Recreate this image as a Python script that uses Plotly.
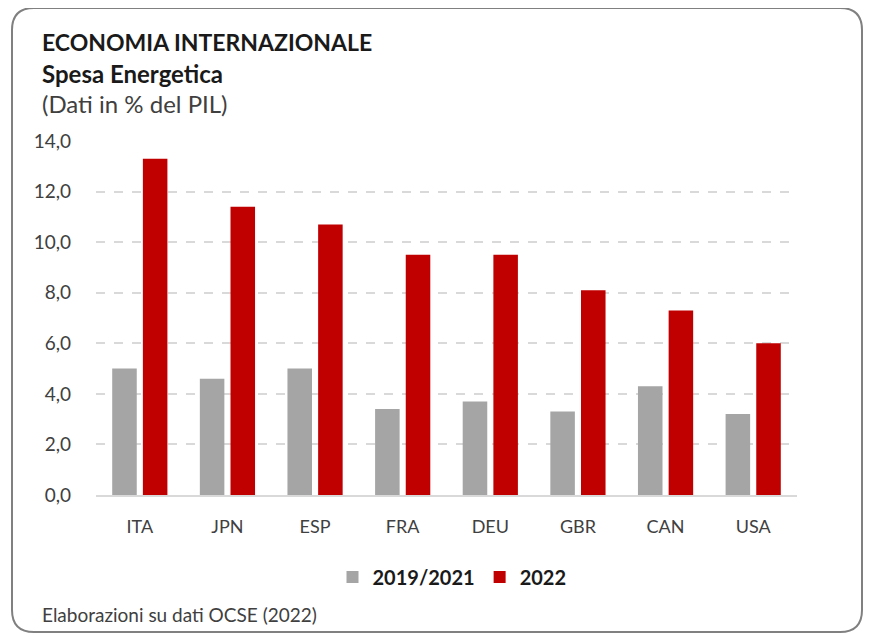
import plotly.graph_objects as go

categories = ["ITA", "JPN", "ESP", "FRA", "DEU", "GBR", "CAN", "USA"]
series_names = ["2019/2021", "2022"]
values_2019_2021 = [5.0, 4.6, 5.0, 3.4, 3.7, 3.3, 4.3, 3.2]
values_2022 = [13.3, 11.4, 10.7, 9.5, 9.5, 8.1, 7.3, 6.0]
y_ticks = [0, 2, 4, 6, 8, 10, 12, 14]

W, H = 875, 642
OFF = 8  # page body margin
# desired plot area in page pixels
PL, PR, PT, PB = 96, 797, 141, 495
ML = PL - OFF
MT = PT - OFF
MR = W - (PR - OFF)
MB = H - (PB - OFF)
PW, PH = W - ML - MR, H - MT - MB

def px(x):
    return (x - PL) / PW

def py(y):
    return (PB - y) / PH

FONT = "Lato, Open Sans, sans-serif"

fig = go.Figure()
fig.add_trace(go.Bar(x=categories, y=values_2019_2021, name=series_names[0],
                     marker=dict(color="#a5a5a5", line=dict(width=0))))
fig.add_trace(go.Bar(x=categories, y=values_2022, name=series_names[1],
                     marker=dict(color="#c00000", line=dict(width=0))))

# rounded border
x0, y0, x1, y1, r = 12, 8, 862, 632, 22
path = (f"M {px(x0+r)},{py(y0)} L {px(x1-r)},{py(y0)} "
        f"Q {px(x1)},{py(y0)} {px(x1)},{py(y0+r)} "
        f"L {px(x1)},{py(y1-r)} Q {px(x1)},{py(y1)} {px(x1-r)},{py(y1)} "
        f"L {px(x0+r)},{py(y1)} Q {px(x0)},{py(y1)} {px(x0)},{py(y1-r)} "
        f"L {px(x0)},{py(y0+r)} Q {px(x0)},{py(y0)} {px(x0+r)},{py(y0)} Z")
fig.add_shape(type="path", path=path, xref="paper", yref="paper",
              line=dict(color="#808080", width=2), fillcolor="rgba(0,0,0,0)",
              layer="below")

texts = [
    ("ECONOMIA INTERNAZIONALE", 42, 23, "bold", "#1a1a1a"),
    ("Spesa Energetica", 73, 24, "bold", "#1a1a1a"),
    ("(Dati in % del PIL)", 104, 24, "normal", "#404040"),
    ("Elaborazioni su dati OCSE (2022)", 614, 19, "normal", "#404040"),
]
for t, yy, sz, wt, col in texts:
    fig.add_annotation(text=t, x=px(40), y=py(yy), xref="paper", yref="paper",
                       xanchor="left", yanchor="middle", showarrow=False,
                       font=dict(family=FONT, size=sz, weight=wt, color=col))

fig.update_layout(
    width=W, height=H,
    margin=dict(l=ML, r=MR, t=MT, b=MB),
    paper_bgcolor="white", plot_bgcolor="white",
    separators=",.",
    barmode="group", bargap=0.3, bargroupgap=0.2,
    font=dict(family=FONT, color="#404040"),
    showlegend=True,
    legend=dict(orientation="h", x=px(452), xanchor="center", y=py(577),
                yanchor="middle", font=dict(size=20, weight="bold", color="#1a1a1a"),
                itemwidth=30, traceorder="normal"),
)
fig.update_yaxes(range=[0, 14], tickvals=y_ticks, tickformat=".1f",
                 showgrid=True, gridcolor="#d9d9d9", griddash="dash", gridwidth=1.5,
                 zeroline=False, showline=False, ticks="",
                 tickfont=dict(size=19, color="#404040"), ticklabelstandoff=24)
fig.update_xaxes(showline=True, linecolor="#d9d9d9", linewidth=2, ticks="",
                 tickfont=dict(size=18, color="#404040"), ticklabelstandoff=14)

fig.write_html("out.html")
